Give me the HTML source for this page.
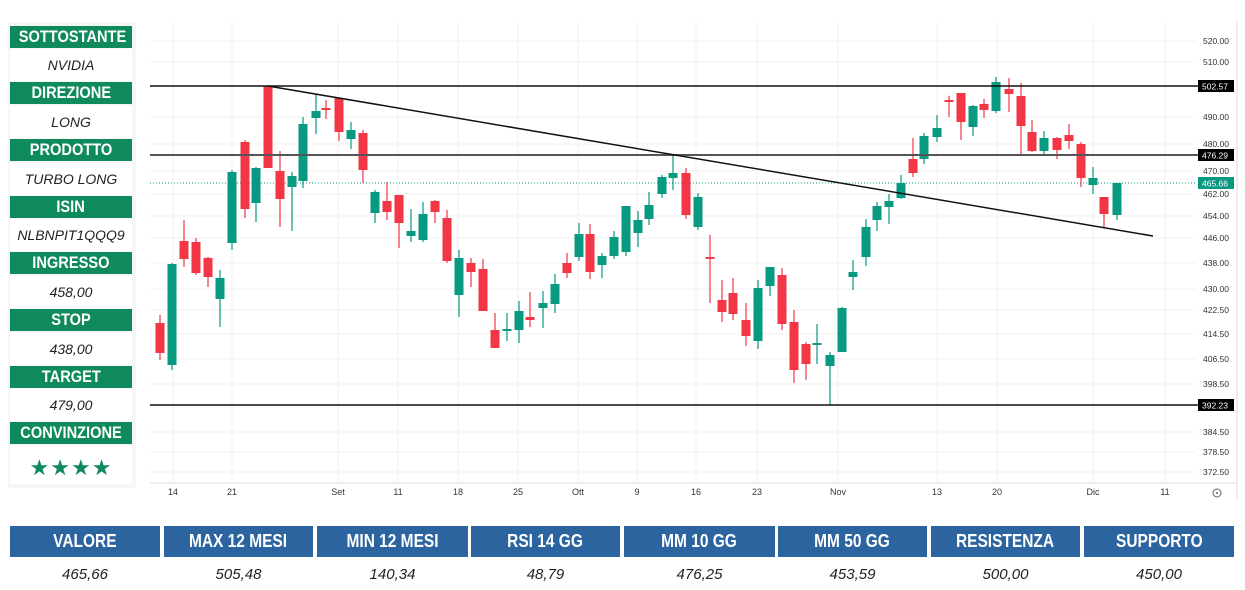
<!DOCTYPE html>
<html><head><meta charset="utf-8">
<style>
body{margin:0;width:1245px;height:590px;background:#fff;position:relative;overflow:hidden;font-family:"Liberation Sans",sans-serif}
.panel{position:absolute;left:8px;top:22px;width:128px;height:466px;background:#f6f6f6}
.h{position:absolute;left:10px;width:122px;height:22px;background:#0f8a5c;color:#fff;font-weight:bold;font-size:17px;line-height:22px;text-align:center;white-space:nowrap}
.h span,.th span{display:inline-block;transform:scaleX(0.86)}
.v{position:absolute;left:10px;width:122px;height:32px;background:#fff;color:#222;font-style:italic;font-size:14px;line-height:32px;text-align:center}
.th{position:absolute;top:526px;height:31px;background:#2c64a0;color:#fff;font-weight:bold;font-size:18px;line-height:31px;text-align:center;white-space:nowrap}
.td{position:absolute;top:560px;height:30px;color:#222;font-style:italic;font-size:15px;line-height:30px;text-align:center;background:#fff}
</style></head><body>
<div class="panel"></div>
<div class="h" style="top:26px"><span>SOTTOSTANTE</span></div><div class="v" style="top:49px">NVIDIA</div>
<div class="h" style="top:82px"><span>DIREZIONE</span></div><div class="v" style="top:106px">LONG</div>
<div class="h" style="top:139px"><span>PRODOTTO</span></div><div class="v" style="top:163px">TURBO LONG</div>
<div class="h" style="top:196px"><span>ISIN</span></div><div class="v" style="top:219px">NLBNPIT1QQQ9</div>
<div class="h" style="top:252px"><span>INGRESSO</span></div><div class="v" style="top:276px">458,00</div>
<div class="h" style="top:309px"><span>STOP</span></div><div class="v" style="top:333px">438,00</div>
<div class="h" style="top:366px"><span>TARGET</span></div><div class="v" style="top:389px">479,00</div>
<div class="h" style="top:422px"><span>CONVINZIONE</span></div><div class="v" style="top:446px;height:38px;line-height:44px;color:#0f8a5c;font-style:normal;font-size:22px;letter-spacing:1px">★★★★</div>

<svg id="c" style="position:absolute;left:0;top:0" width="1245" height="520" xmlns="http://www.w3.org/2000/svg"></svg>

<div class="th" style="left:10px;width:150px"><span>VALORE</span></div><div class="td" style="left:10px;width:150px">465,66</div>
<div class="th" style="left:164px;width:149px"><span>MAX 12 MESI</span></div><div class="td" style="left:164px;width:149px">505,48</div>
<div class="th" style="left:317px;width:151px"><span>MIN 12 MESI</span></div><div class="td" style="left:317px;width:151px">140,34</div>
<div class="th" style="left:471px;width:149px"><span>RSI 14 GG</span></div><div class="td" style="left:471px;width:149px">48,79</div>
<div class="th" style="left:624px;width:151px"><span>MM 10 GG</span></div><div class="td" style="left:624px;width:151px">476,25</div>
<div class="th" style="left:778px;width:149px"><span>MM 50 GG</span></div><div class="td" style="left:778px;width:149px">453,59</div>
<div class="th" style="left:931px;width:149px"><span>RESISTENZA</span></div><div class="td" style="left:931px;width:149px">500,00</div>
<div class="th" style="left:1084px;width:150px"><span>SUPPORTO</span></div><div class="td" style="left:1084px;width:150px">450,00</div>

<script>
const G="#089981",R="#f23645";
const d=[[160,315,360,323,353,R],[172,263,370,264,365,G],[184,220,267,241,259,R],[196,238,275,242,273,R],[208,257,287,258,277,R],[220,270,327,278,299,G],[232,170,250,172,243,G],[245,140,218,142,209,R],[256,167,222,168,203,G],[268,86,168,86,168,R],[280,151,227,171,199,R],[292,172,231,176,187,G],[303,117,188,124,181,G],[316,95,134,111,118,G],[326,100,119,108,109,R],[339,98,141,98,132,R],[351,122,149,130,139,G],[363,130,183,133,170,R],[375,190,223,192,213,G],[387,182,220,201,212,R],[399,195,248,195,223,R],[411,209,242,231,236,G],[423,202,242,214,240,G],[435,200,223,201,212,R],[447,210,263,218,261,R],[459,250,317,258,295,G],[471,258,287,263,272,R],[483,259,311,269,311,R],[495,313,348,330,348,R],[507,313,341,329,331,G],[519,301,343,311,330,G],[530,292,327,317,320,R],[543,291,328,303,308,G],[555,274,313,284,304,G],[567,253,278,263,273,R],[579,223,261,234,257,G],[590,224,279,234,272,R],[602,253,278,256,265,G],[614,231,259,237,256,G],[626,206,256,206,252,G],[638,211,247,220,233,G],[649,192,225,205,219,G],[662,175,198,177,194,G],[673,155,190,173,178,G],[686,168,219,173,215,R],[698,193,230,197,227,G],[710,235,303,257,259,R],[722,280,322,300,312,R],[733,278,320,293,314,R],[746,303,346,320,336,R],[758,280,349,288,341,G],[770,267,296,267,286,G],[782,268,330,275,324,R],[794,310,383,322,370,R],[806,342,380,344,364,R],[817,324,364,343,345,G],[830,352,405,355,366,G],[842,307,352,308,352,G],[853,260,290,272,277,G],[866,219,266,227,257,G],[877,202,231,206,220,G],[889,194,224,201,207,G],[901,175,199,183,198,G],[913,138,177,159,173,R],[924,133,164,136,159,G],[937,115,142,128,137,G],[949,96,117,100,101,R],[961,93,140,93,122,R],[973,105,136,106,127,G],[984,99,118,104,110,R],[996,77,113,82,111,G],[1009,78,112,89,94,R],[1021,83,154,96,126,R],[1032,120,152,132,151,R],[1044,131,155,138,151,G],[1057,137,159,138,150,R],[1069,124,149,135,141,R],[1081,142,187,144,178,R],[1093,167,194,178,185,G],[1104,197,227,197,214,R],[1117,183,220,183,215,G]];
let s='';
const ys=[[41,'520.00'],[62,'510.00'],[117,'490.00'],[144,'480.00'],[171,'470.00'],[194,'462.00'],[216,'454.00'],[238,'446.00'],[263,'438.00'],[289,'430.00'],[310,'422.50'],[334,'414.50'],[359,'406.50'],[384,'398.50'],[432,'384.50'],[452,'378.50'],[472,'372.50']];
for(const [y] of ys) s+=`<line x1="150" x2="1195" y1="${y}" y2="${y}" stroke="#f0f0f0"/>`;
const xs=[[173,'14'],[232,'21'],[338,'Set'],[398,'11'],[458,'18'],[518,'25'],[578,'Ott'],[637,'9'],[696,'16'],[757,'23'],[838,'Nov'],[937,'13'],[997,'20'],[1093,'Dic'],[1165,'11']];
for(const [x] of xs) s+=`<line x1="${x}" x2="${x}" y1="22" y2="483" stroke="#f0f0f0"/>`;
s+=`<line x1="150" x2="1237" y1="483" y2="483" stroke="#ddd"/><line x1="1237" x2="1237" y1="22" y2="500" stroke="#ddd"/>`;
for(const [x,t] of xs) s+=`<text x="${x}" y="495" font-size="9" fill="#333" text-anchor="middle" font-family="Liberation Sans">${t}</text>`;
for(const [y,t] of ys) s+=`<text x="1203" y="${y+3}" font-size="8.5" fill="#333" font-family="Liberation Sans">${t}</text>`;
s+=`<circle cx="1217" cy="493" r="4" fill="none" stroke="#666"/><circle cx="1217" cy="493" r="1" fill="#666"/>`;
s+=`<line x1="150" x2="1195" y1="183" y2="183" stroke="#089981" stroke-dasharray="1,2"/>`;
for(const [x,wt,wb,bt,bb,c] of d){s+=`<line x1="${x}" x2="${x}" y1="${wt}" y2="${wb}" stroke="${c}" stroke-width="1.2"/><rect x="${x-4.5}" y="${bt}" width="9" height="${Math.max(2,bb-bt)}" fill="${c}"/>`;}
s+=`<line x1="150" x2="1200" y1="86" y2="86" stroke="#111" stroke-width="1.5"/>`;
s+=`<line x1="150" x2="1200" y1="155" y2="155" stroke="#555" stroke-width="2"/>`;
s+=`<line x1="150" x2="1200" y1="405" y2="405" stroke="#111" stroke-width="1.5"/>`;
s+=`<line x1="268" x2="1153" y1="86" y2="236" stroke="#111" stroke-width="1.5"/>`;
const bx=[[86,'502.57','#000'],[155,'476.29','#000'],[183,'465.66','#089981'],[405,'392.23','#000']];
for(const [y,t,c] of bx) s+=`<rect x="1198" y="${y-6}" width="36" height="12" fill="${c}"/><text x="1202" y="${y+3.5}" font-size="8.5" fill="#fff" font-family="Liberation Sans">${t}</text>`;
document.getElementById('c').innerHTML=s;
</script>
</body></html>
